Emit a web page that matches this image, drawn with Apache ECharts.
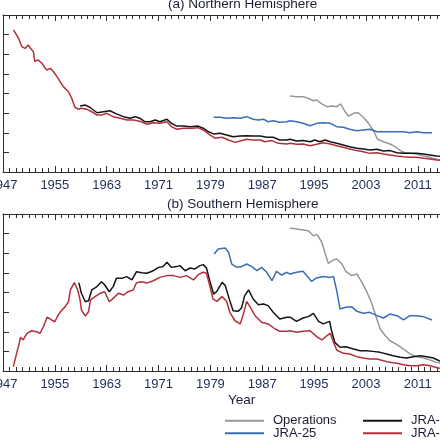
<!DOCTYPE html>
<html>
<head>
<meta charset="utf-8">
<script src="https://cdn.jsdelivr.net/npm/echarts@6/dist/echarts.min.js"></script>
<style>
    html, body { margin: 0; padding: 0; background: #fff; }
    #chart { width: 440px; height: 440px; }
</style>
</head>
<body>
<div id="chart"></div>
<script>
// values (arbitrary units, axis 0-80, no labels shown)
// (a) Northern Hemisphere
var nhOpsYears = [1991.3,1992.3,1993.3,1994.1,1994.9,1995.4,1996.2,1997.0,1997.7,1998.5,1999.1,1999.8,2000.3,2001.1,2001.8,2002.6,2003.4,2004.1,2004.8,2005.7,2006.7,2007.5,2008.3,2009.0,2009.8,2010.8,2011.9,2012.9,2013.9,2015.5];
var nhOps = [38.7,38.4,38.4,37.6,36.3,36.7,34.7,33.3,33.6,33.3,34.7,30.7,28.5,29.9,30.2,27.9,24.8,21.4,16.7,15.4,14.3,12.9,10.9,9.8,9.5,9.2,8.2,7.5,6.5,5.8];

var nhJra25Years = [1979.5,1980.5,1981.5,1982.5,1983.6,1984.6,1985.6,1986.4,1987.2,1987.9,1988.7,1989.7,1990.8,1991.3,1992.3,1993.3,1994.4,1995.4,1996.4,1997.5,1998.5,1999.5,2000.5,2001.6,2002.6,2003.6,2004.7,2005.7,2006.7,2007.8,2008.8,2009.8,2010.8,2011.9,2013.2];
var nhJra25 = [27.9,27.9,27.4,27.7,27.4,28.2,26.9,26.5,26.9,25.6,26.1,25.3,25.6,26.1,25.6,24.8,23.6,24.8,25.1,24.8,23.1,22.8,21.8,21.0,21.4,21.8,20.5,20.5,20.5,20.5,20.5,20.0,20.5,20.0,20.0];

var nhJra55Years = [1958.9,1959.7,1960.4,1961.5,1962.5,1963.5,1964.5,1965.6,1966.6,1967.4,1968.1,1968.9,1969.7,1970.5,1971.2,1972.3,1973.0,1973.8,1974.8,1975.9,1977.1,1977.9,1978.7,1979.5,1980.5,1981.5,1982.5,1983.6,1984.6,1985.6,1986.7,1987.7,1988.7,1989.7,1990.8,1991.3,1992.3,1993.3,1994.4,1995.1,1995.9,1996.7,1997.5,1998.5,1999.5,2000.5,2001.6,2002.6,2003.6,2004.7,2005.7,2006.7,2007.8,2008.8,2009.8,2010.8,2011.9,2012.9,2013.9,2015.5];
var nhJra55 = [33.6,34.1,33.0,30.2,30.7,31.2,29.6,28.2,27.4,28.2,27.4,25.6,25.6,26.5,25.6,26.9,24.8,23.4,23.4,23.1,23.4,22.3,20.5,19.4,19.7,18.9,18.0,18.3,18.5,18.3,18.3,17.7,17.7,16.3,16.3,16.7,15.8,16.0,15.4,16.3,15.4,16.3,15.4,14.6,13.8,12.9,12.1,11.7,11.2,11.6,10.7,10.9,9.8,9.5,9.5,9.5,9.2,8.7,8.2,7.8];

var nhJra3qYears = [1948.6,1949.1,1949.4,1949.9,1950.4,1950.9,1951.2,1951.7,1951.9,1952.4,1953.0,1953.7,1954.3,1954.8,1955.5,1956.3,1957.1,1957.6,1958.1,1958.6,1959.1,1959.9,1960.7,1961.5,1962.2,1963.0,1964.0,1965.1,1966.1,1967.1,1968.1,1969.2,1970.2,1971.2,1972.3,1973.0,1973.8,1974.8,1976.1,1977.1,1977.9,1978.7,1979.7,1980.8,1981.8,1982.8,1983.6,1984.6,1985.6,1986.7,1987.4,1988.5,1989.5,1990.8,1991.3,1992.3,1993.3,1994.4,1995.4,1996.4,1997.5,1998.5,1999.5,2000.5,2001.6,2002.6,2003.6,2004.7,2005.7,2006.7,2007.8,2008.8,2009.8,2010.8,2011.9,2012.9,2013.9,2015.5];
var nhJra3q = [72.4,69.8,68.1,63.9,63.0,64.7,63.2,61.3,56.2,57.1,55.4,52.0,52.8,51.1,47.7,43.5,40.9,37.6,33.0,32.0,32.5,32.0,30.7,29.0,29.0,29.9,28.2,27.4,26.5,26.5,25.9,24.3,25.1,24.8,25.6,23.1,21.8,22.3,22.3,22.6,21.4,19.4,17.2,17.7,16.3,15.1,15.8,16.7,16.3,16.3,15.4,16.0,14.6,14.3,14.6,14.1,14.3,13.4,14.1,14.9,14.3,13.4,12.6,11.7,10.9,10.3,9.5,9.8,9.2,8.7,8.2,7.8,7.5,7.5,7.0,6.6,6.1,5.8];

// (b) Southern Hemisphere
var shOpsYears = [1991.3,1992.3,1993.3,1994.1,1994.9,1995.5,1996.2,1996.7,1997.2,1998.0,1998.5,1999.3,1999.9,2000.8,2001.6,2002.4,2003.1,2003.9,2004.6,2005.2,2006.0,2006.7,2007.8,2008.8,2009.8,2010.8,2011.9,2012.9,2013.9,2015.5];
var shOps = [72.9,72.4,71.9,71.5,68.9,69.5,65.6,60.0,54.9,56.6,57.1,54.5,50.8,48.6,49.4,45.2,40.6,34.5,27.4,21.4,18.0,15.4,13.4,11.2,8.7,7.3,6.6,5.6,4.4,3.5];

var shJra25Years = [1979.6,1980.2,1981.3,1981.8,1982.3,1983.1,1983.8,1984.6,1985.4,1986.2,1986.9,1987.7,1988.5,1989.2,1990.0,1990.8,1991.3,1992.3,1993.3,1994.1,1994.6,1995.4,1996.4,1997.5,1998.0,1998.5,1999.0,1999.9,2000.8,2001.6,2002.6,2003.6,2004.7,2005.7,2006.7,2007.8,2008.8,2009.8,2010.8,2011.9,2013.2];
var shJra25 = [59.6,62.2,62.7,60.5,54.5,52.8,53.2,54.5,53.2,51.1,52.8,50.3,46.0,50.8,48.9,50.3,49.4,50.3,50.8,47.7,45.7,47.4,48.1,47.7,48.1,40.9,31.6,32.5,32.8,30.4,29.4,29.9,28.2,27.0,29.0,28.2,26.0,28.2,28.2,27.7,26.0];

var shJra55Years = [1958.7,1959.1,1959.7,1960.2,1960.7,1961.5,1962.2,1962.7,1963.4,1964.0,1964.5,1965.3,1966.1,1966.9,1967.6,1968.4,1969.2,1970.2,1971.0,1971.7,1972.3,1973.0,1973.8,1974.3,1975.1,1975.9,1976.6,1977.4,1977.9,1978.4,1978.9,1979.5,1980.0,1980.8,1981.3,1981.8,1982.5,1983.3,1983.8,1984.3,1984.9,1985.6,1986.4,1987.2,1987.9,1988.7,1989.7,1990.8,1991.3,1992.3,1993.3,1994.1,1994.9,1995.7,1996.4,1997.4,1997.7,1998.2,1999.0,1999.9,2001.1,2002.1,2003.1,2004.1,2005.2,2006.2,2007.2,2008.3,2009.3,2010.3,2011.4,2012.4,2013.4,2014.3,2015.5];
var shJra55 = [45.0,39.6,35.3,35.8,41.3,43.0,45.5,43.8,40.4,43.0,47.2,47.2,48.1,46.4,50.6,50.1,49.8,51.1,52.8,53.2,55.4,52.8,53.2,53.7,51.1,52.5,52.0,53.7,54.2,52.5,46.0,39.2,40.6,45.2,43.5,37.9,30.7,30.4,32.1,38.4,41.3,36.7,33.8,34.1,33.3,29.9,26.5,27.4,27.4,25.3,27.0,27.7,29.4,25.3,24.0,25.3,20.5,14.6,12.1,12.4,11.2,10.3,10.3,10.0,9.5,8.7,7.8,7.0,6.6,7.3,7.8,7.3,6.6,5.2,4.4];

var shJra3qYears = [1948.6,1949.1,1949.4,1949.7,1950.1,1950.7,1951.4,1952.2,1952.7,1953.2,1953.8,1954.5,1955.0,1955.5,1956.1,1956.6,1957.1,1957.4,1958.0,1958.5,1958.9,1959.1,1959.7,1960.2,1960.5,1961.2,1962.0,1962.7,1963.4,1964.0,1964.8,1965.6,1966.3,1967.1,1967.6,1968.4,1969.2,1970.2,1971.2,1972.3,1973.3,1974.3,1975.3,1976.4,1977.1,1977.9,1978.4,1978.9,1979.4,1980.0,1980.8,1981.5,1982.0,1982.8,1983.6,1984.1,1984.6,1985.1,1985.9,1986.9,1987.9,1989.0,1989.7,1990.8,1991.3,1992.3,1993.3,1994.4,1995.4,1996.2,1997.0,1997.5,1998.0,1998.5,1999.5,2000.5,2001.6,2002.6,2003.6,2004.7,2005.7,2006.7,2007.8,2008.8,2009.8,2010.8,2011.9,2012.9,2014.2,2015.5];
var shJra3q = [2.2,9.0,12.7,17.2,15.8,19.2,20.5,20.0,19.2,22.3,27.4,26.0,25.1,28.5,31.1,32.8,35.3,41.3,45.0,41.6,36.2,31.1,28.0,30.2,36.2,37.9,39.6,40.4,35.3,37.0,39.6,38.7,40.4,41.3,45.0,45.5,44.8,46.0,47.7,48.6,48.6,47.7,48.6,46.4,49.1,50.3,49.8,43.5,36.7,35.5,37.9,35.5,29.9,25.6,24.0,29.0,35.5,32.8,28.2,24.8,24.0,21.4,20.2,20.2,20.5,19.7,20.2,20.5,17.5,15.8,18.0,19.2,14.6,10.7,9.0,8.7,7.3,6.6,6.1,6.1,5.2,4.4,3.9,3.2,2.7,2.7,3.2,2.7,1.5,1.0];

var seriesNames = ['Operations', 'JRA-25', 'JRA-55', 'JRA-3Q'];
var seriesColors = ['#979797', '#3b6db2', '#141414', '#b2303b'];

var FONT = '"Liberation Sans", Arial, sans-serif';
var axisColor = '#2e2e2e';
var labelColor = '#1f2c5a';
var textColor = '#1b1e33';

function pairs(xs, ys) {
    return xs.map(function (x, i) { return [x, ys[i]]; });
}

// frame axes: year ticks every year, labels every 8 years
function yearAxis(gridIndex, position, showLabel) {
    return {
        type: 'value',
        gridIndex: gridIndex,
        position: position,
        min: 1947,
        max: 2019,
        interval: 8,
        axisLine: { show: true, onZero: false, lineStyle: { color: axisColor, width: 1 } },
        axisTick: { show: true, inside: true, length: 6, lineStyle: { color: axisColor } },
        minorTick: { show: true, splitNumber: 8, length: 4, lineStyle: { color: axisColor } },
        axisLabel: {
            show: showLabel, color: labelColor, fontFamily: FONT, fontSize: 13, margin: 7,
            formatter: function (v) { return String(v); }
        },
        splitLine: { show: false },
        minorSplitLine: { show: false }
    };
}

function valueAxis(gridIndex) {
    return {
        type: 'value',
        gridIndex: gridIndex,
        min: 0,
        max: 80,
        interval: 10,
        axisLine: { show: true, onZero: false, lineStyle: { color: axisColor, width: 1 } },
        axisTick: { show: true, inside: true, length: 6, lineStyle: { color: axisColor } },
        axisLabel: { show: false },
        splitLine: { show: false }
    };
}

function line(name, idx, data, xIdx, yIdx) {
    return {
        name: name,
        type: 'line',
        xAxisIndex: xIdx,
        yAxisIndex: yIdx,
        data: data,
        symbol: 'none',
        showSymbol: false,
        lineStyle: { color: seriesColors[idx], width: 1.5 },
        itemStyle: { color: seriesColors[idx] },
        z: 2 + idx
    };
}

var nhData = [pairs(nhOpsYears, nhOps), pairs(nhJra25Years, nhJra25), pairs(nhJra55Years, nhJra55), pairs(nhJra3qYears, nhJra3q)];
var shData = [pairs(shOpsYears, shOps), pairs(shJra25Years, shJra25), pairs(shJra55Years, shJra55), pairs(shJra3qYears, shJra3q)];

var series = [];
seriesNames.forEach(function (name, i) {
    series.push(line(name, i, nhData[i], 0, 0));
});
seriesNames.forEach(function (name, i) {
    series.push(line(name, i, shData[i], 2, 1));
});

// legend block, two columns below the lower panel
var legendX = [225, 363];
var legendY = [420.7, 433.3];
var legendGraphic = [];
seriesNames.forEach(function (name, i) {
    var lx = legendX[Math.floor(i / 2)], ly = legendY[i % 2];
    legendGraphic.push({
        type: 'line',
        shape: { x1: lx, y1: ly, x2: lx + 39, y2: ly },
        style: { stroke: seriesColors[i], lineWidth: 2 }
    });
    legendGraphic.push({
        type: 'text', x: lx + 48, y: ly,
        style: { text: name, font: '13px ' + FONT, fill: textColor, textVerticalAlign: 'middle' }
    });
});

var chart = echarts.init(document.getElementById('chart'));
chart.setOption({
    animation: false,
    backgroundColor: '#fff',
    grid: [
        { left: 3, top: 15, width: 466.6, height: 157, containLabel: false, outerBoundsMode: 'none' },
        { left: 3, top: 214, width: 466.6, height: 157, containLabel: false, outerBoundsMode: 'none' }
    ],
    xAxis: [
        yearAxis(0, 'bottom', true),
        yearAxis(0, 'top', false),
        yearAxis(1, 'bottom', true),
        yearAxis(1, 'top', false)
    ],
    yAxis: [valueAxis(0), valueAxis(1)],
    graphic: [
        { type: 'text', x: 168, y: 4.5, style: { text: '(a) Northern Hemisphere', font: '13.5px ' + FONT, fill: textColor, textVerticalAlign: 'middle' } },
        { type: 'text', x: 167, y: 204.5, style: { text: '(b) Southern Hemisphere', font: '13.5px ' + FONT, fill: textColor, textVerticalAlign: 'middle' } },
        { type: 'text', x: 241.7, y: 400.5, style: { text: 'Year', font: '13.5px ' + FONT, fill: textColor, textAlign: 'center', textVerticalAlign: 'middle' } }
    ].concat(legendGraphic),
    series: series
});
</script>
</body>
</html>
